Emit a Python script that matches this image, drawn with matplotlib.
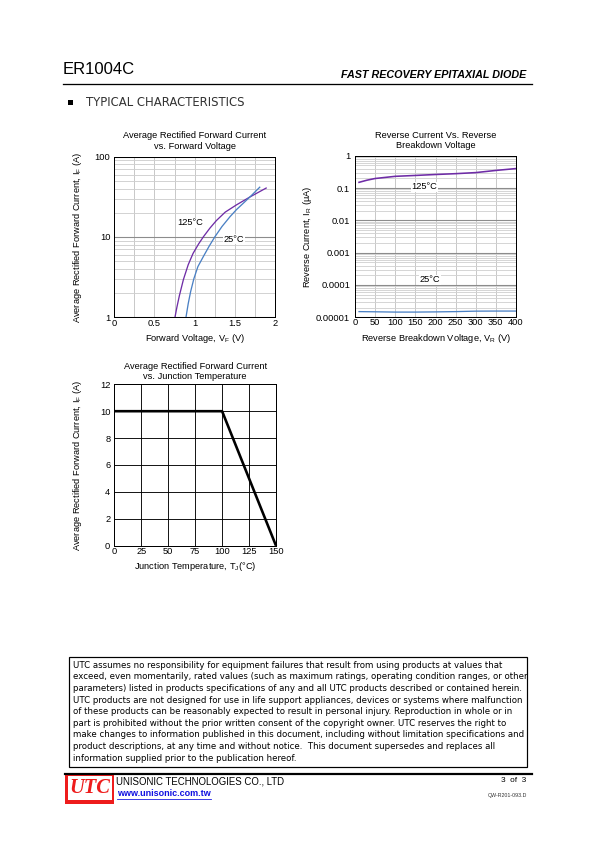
import numpy as np
import matplotlib
matplotlib.use('Agg')
import matplotlib.pyplot as plt
from matplotlib import font_manager as fm
from matplotlib.ticker import FixedLocator, FixedFormatter, NullFormatter
from matplotlib.patches import Rectangle
from matplotlib.lines import Line2D

# ---------------- data ----------------
vf_125 = [0.755, 0.78, 0.81, 0.86, 0.92, 0.98, 1.05, 1.11, 1.19, 1.27, 1.38, 1.52, 1.69, 1.89]
if_125 = [1.0, 1.35, 1.86, 2.95, 4.52, 6.24, 8.22, 10.1, 12.9, 16.0, 20.4, 25.1, 31.6, 40.7]
vf_25 = [0.892, 0.92, 0.95, 0.99, 1.04, 1.11, 1.18, 1.25, 1.34, 1.44, 1.52, 1.61, 1.70, 1.81]
if_25 = [1.0, 1.48, 2.09, 3.02, 4.27, 5.75, 7.67, 10.0, 13.5, 17.9, 21.9, 26.6, 32.4, 41.7]

vr_125 = [10, 30, 50, 100, 150, 200, 250, 300, 350, 400]
ir_125 = [0.15, 0.175, 0.197, 0.23, 0.245, 0.262, 0.278, 0.30, 0.35, 0.40]
vr_25 = [10, 50, 100, 150, 200, 250, 300, 350, 400]
ir_25 = [1.5e-5, 1.48e-5, 1.45e-5, 1.45e-5, 1.47e-5, 1.5e-5, 1.55e-5, 1.56e-5, 1.56e-5]

tj = [0, 100, 150]
if_derate = [10, 10, 0]

fwd_xticks = [0, 0.5, 1, 1.5, 2]
fwd_xlabels = ['0', '0.5', '1', '1.5', '2']
fwd_yticks = [1, 10, 100]
fwd_ylabels = ['1', '10', '100']
rev_xticks = [0, 50, 100, 150, 200, 250, 300, 350, 400]
rev_yticks = [1e-5, 1e-4, 1e-3, 1e-2, 1e-1, 1]
rev_ylabels = ['0.00001', '0.0001', '0.001', '0.01', '0.1', '1']
tj_xticks = [0, 25, 50, 75, 100, 125, 150]
tj_yticks = [0, 2, 4, 6, 8, 10, 12]

disclaimer = [
    "UTC assumes no responsibility for equipment failures that result from using products at values that",
    "exceed, even momentarily, rated values (such as maximum ratings, operating condition ranges, or other",
    "parameters) listed in products specifications of any and all UTC products described or contained herein.",
    "UTC products are not designed for use in life support appliances, devices or systems where malfunction",
    "of these products can be reasonably expected to result in personal injury. Reproduction in whole or in",
    "part is prohibited without the prior written consent of the copyright owner. UTC reserves the right to",
    "make changes to information published in this document, including without limitation specifications and",
    "product descriptions, at any time and without notice.  This document supersedes and replaces all",
    "information supplied prior to the publication hereof.",
]

# ---------------- setup ----------------
W, H = 595, 842
plt.rcParams['font.family'] = ['Liberation Sans', 'DejaVu Sans']
plt.rcParams['mathtext.fontset'] = 'custom'
plt.rcParams['mathtext.rm'] = 'Liberation Sans'
plt.rcParams['mathtext.it'] = 'Liberation Sans:italic'
plt.rcParams['axes.unicode_minus'] = False

names = {f.name for f in fm.fontManager.ttflist}
NARROW = 'Liberation Sans Narrow' if 'Liberation Sans Narrow' in names else 'Liberation Sans'

fig = plt.figure(figsize=(W / 72, H / 72), dpi=72)
fig.patch.set_facecolor('white')
R = fig.canvas.get_renderer()


def fx(x):
    return x / W


def fy(y):
    return 1 - y / H


def px_axes(l, t, r, b):
    return fig.add_axes([fx(l), fy(b), (r - l) / W, (b - t) / H])


def fit_size(s, width, **kw):
    t = fig.text(0, 0, s, fontsize=10, **kw)
    w = t.get_window_extent(R).width
    t.remove()
    return 10 * width / w


PURPLE = '#6e2ca6'
BLUE = '#4a80c4'
TS = 9.2  # chart text size

# ---------------- header ----------------
fig.text(fx(63), fy(69.5), 'ER1004C', fontsize=fit_size('ER1004C', 73, family=NARROW),
         family=NARROW, va='center', ha='left')
s = 'FAST RECOVERY EPITAXIAL DIODE'
fig.text(fx(526), fy(75.5), s, fontsize=fit_size(s, 186, family=NARROW, weight='bold', style='italic'),
         family=NARROW, weight='bold', style='italic', va='center', ha='right')
fig.add_artist(Line2D([fx(63), fx(532)], [fy(84), fy(84)], color='black', lw=1.3))
fig.add_artist(Rectangle((fx(67.5), fy(105)), 5 / W, 5 / H, color='black', lw=0))
s = 'TYPICAL CHARACTERISTICS'
fig.text(fx(86), fy(102.5), s, fontsize=fit_size(s, 157, family='DejaVu Sans'),
         family='DejaVu Sans', va='center', ha='left', color='#333333')


def style_axes(ax):
    for sp in ax.spines.values():
        sp.set_color('black')
        sp.set_linewidth(1.0)
    ax.tick_params(which='both', length=0, labelsize=TS, colors='black')
    ax.set_axisbelow(True)


# ---------------- chart 1: forward ----------------
ax1 = px_axes(114.3, 156.7, 275, 317.3)
ax1.set_yscale('log')
ax1.set_xlim(0, 2)
ax1.set_ylim(1, 100)
ax1.xaxis.set_major_locator(FixedLocator(fwd_xticks))
ax1.xaxis.set_major_formatter(FixedFormatter(fwd_xlabels))
ax1.xaxis.set_minor_locator(FixedLocator([0.25, 0.75, 1.25, 1.75]))
ax1.yaxis.set_major_locator(FixedLocator(fwd_yticks))
ax1.yaxis.set_major_formatter(FixedFormatter(fwd_ylabels))
ax1.yaxis.set_minor_locator(FixedLocator([m * d for d in (1, 10) for m in range(2, 10)]))
ax1.yaxis.set_minor_formatter(NullFormatter())
ax1.grid(which='both', axis='x', color='#c4c4c4', lw=0.9)
ax1.grid(which='minor', axis='y', color='#cfcfcf', lw=0.9)
ax1.grid(which='major', axis='y', color='#8c8c8c', lw=1.1)
style_axes(ax1)
ax1.tick_params(axis='y', pad=4)
ax1.tick_params(axis='x', pad=1.5)
ax1.plot(vf_125, if_125, color=PURPLE, lw=1.3)
ax1.plot(vf_25, if_25, color=BLUE, lw=1.3)
bb = dict(fc='white', ec='none', pad=0.6)
ax1.text(0.94, 15, '125°C', fontsize=TS, ha='center', va='center', bbox=bb)
ax1.text(1.49, 9.4, '25°C', fontsize=TS, ha='center', va='center', bbox=bb)
ax1.set_title('Average Rectified Forward Current\nvs. Forward Voltage', fontsize=TS, pad=0,
              y=1 + (156.7 - 141.2) / 160.6, va='center', linespacing=1.2)
ax1.set_xlabel(r'Forward Voltage, V$_\mathregular{F}$ (V)', fontsize=TS)
ax1.xaxis.set_label_coords(0.5, -(338.3 - 317.3) / 160.6)
ax1.xaxis.label.set_va('center')
ax1.set_ylabel(r'Average Rectified Forward Current, I$_\mathregular{F}$ (A)', fontsize=TS)
ax1.yaxis.set_label_coords(-(114.3 - 78) / 160.7, 0.5)
ax1.yaxis.label.set_va('center')

# ---------------- chart 2: reverse ----------------
ax2 = px_axes(355, 155.7, 516, 317.3)
ax2.set_yscale('log')
ax2.set_xlim(0, 400)
ax2.set_ylim(1e-5, 1)
ax2.xaxis.set_major_locator(FixedLocator(rev_xticks))
ax2.yaxis.set_major_locator(FixedLocator(rev_yticks))
ax2.yaxis.set_major_formatter(FixedFormatter(rev_ylabels))
ax2.yaxis.set_minor_locator(FixedLocator([m * 10.0 ** e for e in range(-5, 0) for m in range(2, 10)]))
ax2.yaxis.set_minor_formatter(NullFormatter())
ax2.grid(which='major', axis='x', color='#c4c4c4', lw=0.9)
ax2.grid(which='minor', axis='y', color='#d2d2d2', lw=0.9)
ax2.grid(which='major', axis='y', color='#8c8c8c', lw=1.1)
style_axes(ax2)
ax2.tick_params(axis='y', pad=5)
ax2.tick_params(axis='x', pad=1)
ax2.plot(vr_125, ir_125, color=PURPLE, lw=1.6)
ax2.plot(vr_25, ir_25, color=BLUE, lw=1.3)
ax2.text(172, 0.11, '125°C', fontsize=TS, ha='center', va='center', bbox=bb)
ax2.text(187, 1.44e-4, '25°C', fontsize=TS, ha='center', va='center', bbox=bb)
ax2.set_title('Reverse Current Vs. Reverse\nBreakdown Voltage', fontsize=TS, pad=0,
              y=1 + (155.7 - 140.3) / 161.6, va='center', linespacing=1.2)
ax2.set_xlabel(r'Reverse Breakdown Voltage, V$_\mathregular{R}$ (V)', fontsize=TS)
ax2.xaxis.set_label_coords(0.5, -(338.3 - 317.3) / 161.6)
ax2.xaxis.label.set_va('center')
ax2.set_ylabel(r'Reverse Current, I$_\mathregular{R}$ (μA)', fontsize=TS)
ax2.yaxis.set_label_coords(-(355 - 307) / 161, 0.5)
ax2.yaxis.label.set_va('center')

# ---------------- chart 3: derating ----------------
ax3 = px_axes(114.3, 384.3, 276, 545.7)
ax3.set_xlim(0, 150)
ax3.set_ylim(0, 12)
ax3.set_xticks(tj_xticks)
ax3.set_yticks(tj_yticks)
ax3.grid(which='major', color='black', lw=0.9)
style_axes(ax3)
ax3.tick_params(axis='y', pad=4)
ax3.tick_params(axis='x', pad=1.5)
ax3.plot(tj, if_derate, color='black', lw=2.6, clip_on=False, solid_capstyle='butt')
ax3.set_title('Average Rectified Forward Current\nvs. Junction Temperature', fontsize=TS, pad=0,
              y=1 + (384.3 - 371.5) / 161.4, va='center', linespacing=1.2)
ax3.set_xlabel(r'Junction Temperature, T$_\mathregular{J}$(°C)', fontsize=TS)
ax3.xaxis.set_label_coords(0.5, -(566.5 - 545.7) / 161.4)
ax3.xaxis.label.set_va('center')
ax3.set_ylabel(r'Average Rectified Forward Current, I$_\mathregular{F}$ (A)', fontsize=TS)
ax3.yaxis.set_label_coords(-(114.3 - 77) / 161.7, 0.5)
ax3.yaxis.label.set_va('center')

# ---------------- disclaimer ----------------
fig.add_artist(Rectangle((fx(69.3), fy(766.7)), (526.7 - 69.3) / W, (766.7 - 657.3) / H,
                         fill=False, ec='black', lw=1.2))
DFONT = 'DejaVu Sans'
dsize = min(fit_size(l, 450, family=DFONT) for l in disclaimer[:8])
for i, line in enumerate(disclaimer):
    fig.text(fx(72.7), fy(665.3 + i * 11.6), line, fontsize=dsize, family=DFONT,
             ha='left', va='center')

# ---------------- footer ----------------
fig.add_artist(Line2D([fx(65), fx(531.7)], [fy(774), fy(774)], color='black', lw=2.2))
fig.add_artist(Rectangle((fx(65), fy(803.5)), 48.5 / W, 29.5 / H, color='#ee1c1c', lw=0))
fig.add_artist(Rectangle((fx(67.5), fy(799.5)), 44.5 / W, 23.5 / H, color='white', lw=0))
fig.text(fx(89.5), fy(788), 'UTC', fontsize=fit_size('UTC', 41, family='Liberation Serif',
         weight='bold', style='italic'), family='Liberation Serif', weight='bold', style='italic',
         color='#ee1c1c', ha='center', va='center')
s = 'UNISONIC TECHNOLOGIES CO., LTD'
fig.text(fx(115.5), fy(781), s, fontsize=fit_size(s, 169, family=NARROW), family=NARROW,
         ha='left', va='center')
s = 'www.unisonic.com.tw'
usz = fit_size(s, 93.4, weight='bold')
fig.text(fx(117.3), fy(794), s, fontsize=usz, weight='bold', color='#1010e0', ha='left', va='center')
fig.add_artist(Line2D([fx(117.3), fx(210.7)], [fy(798.5), fy(798.5)], color='#1010e0', lw=0.8))
fig.text(fx(526.7), fy(781), '3  of  3', fontsize=8.2, ha='right', va='center')
fig.text(fx(526.7), fy(795), 'QW-R201-093.D', fontsize=5.2, ha='right', va='center', color='#333333')

fig.savefig('out.png', dpi=72, facecolor='white')
